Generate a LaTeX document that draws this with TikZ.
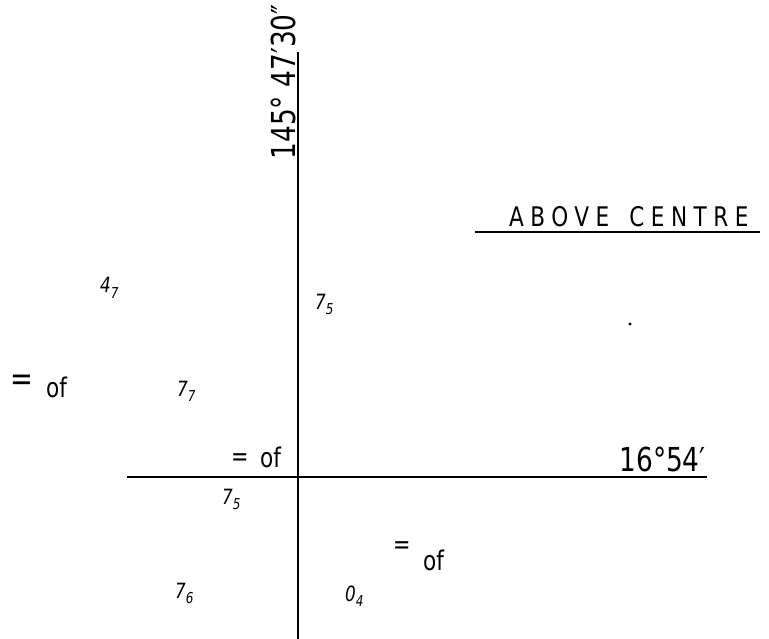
\documentclass[tikz,border=0pt]{standalone}
\usepackage{fontspec}
\setmainfont{DejaVu Sans}[FakeStretch=0.8]
\newfontfamily\widefont{DejaVu Sans}[FakeStretch=0.8,LetterSpace=24]
\newcommand{\lowsub}[1]{\raisebox{-0.28em}{\fontsize{15}{15}\selectfont #1}}
\begin{document}
\begin{tikzpicture}[x=1pt,y=-1pt,
  axis/.style={line width=1.6pt,black},
  sub/.style={anchor=base west,inner sep=0pt,font=\itshape\fontsize{21}{21}\selectfont},
  oflabel/.style={anchor=base west,inner sep=0pt,font=\fontsize{27}{27}\selectfont},
  eqlabel/.style={anchor=base west,inner sep=0pt,font=\fontsize{26}{26}\selectfont},
  big/.style={inner sep=0pt,font=\fontsize{33}{33}\selectfont}]
\useasboundingbox (0,0) rectangle (769,639);
% axes
\coordinate (vtop) at (298,52);
\coordinate (vbot) at (298,639);
\coordinate (hl) at (127,477);
\coordinate (hr) at (707,477);
\draw[axis] (vtop) -- (vbot);
\draw[axis] (hl) -- (hr);
% vertical label
\node[big,rotate=90] (lat) at (283,82) {145° 47′30″};
% horizontal label
\node[big,anchor=base east] (lon) at (706,471) {16°54′};
% above centre
\node[anchor=base west,inner sep=0pt,font=\widefont\fontsize{27}{27}\selectfont] (above) at (509,227) {ABOVE\hspace{20pt}CENTRE};
\coordinate (ul) at (475,232);
\coordinate (ur) at (760,232);
\draw[line width=1.6pt] (ul) -- (ur);
% small labels
\node[sub] (a47) at (100,293) {4\lowsub{7}};
\node[sub] (a75) at (315,309) {7\lowsub{5}};
\node[sub] (a77) at (177,396) {7\lowsub{7}};
\node[sub] (b75) at (222,504) {7\lowsub{5}};
\node[sub] (a76) at (175,598) {7\lowsub{6}};
\node[sub] (a04) at (345,601) {0\lowsub{4}};
% = of labels
\node[eqlabel,font=\fontsize{34}{34}\selectfont] (eq1) at (10,390) {=};
\node[oflabel] (of1) at (46,397) {of};
\node[eqlabel] (eq2) at (231,465) {=};
\node[oflabel] (of2) at (260,467) {of};
\node[eqlabel] (eq3) at (393,553) {=};
\node[oflabel] (of3) at (423,570) {of};
% dot
\fill (630,324) circle (1.6);
\end{tikzpicture}
\end{document}
